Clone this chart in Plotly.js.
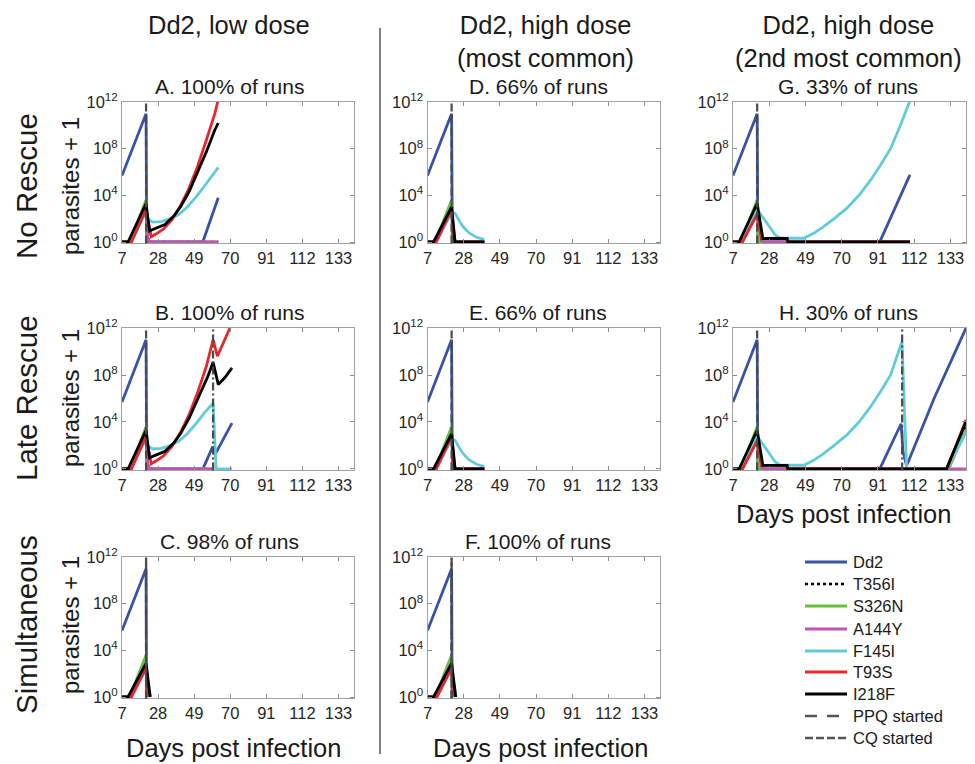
<!DOCTYPE html>
<html><head><meta charset="utf-8">
<script src="https://cdn.plot.ly/plotly-3.0.1.min.js"></script>
<style>html,body{margin:0;padding:0;background:#fff}#chart{width:975px;height:764px}</style>
</head><body><div id="chart"></div>
<script>
// ---- DATA: each point is [day post infection, log10(parasites + 1)] ----
const strains = ['Dd2','T356I','S326N','A144Y','F145I','T93S','I218F'];
const strainColors = ['#3953a4','#000000','#66c23a','#c052b8','#62cbdb','#e8262b','#000000'];
const strainDash = ['solid','dot','solid','solid','solid','solid','solid'];
const xTicks = [7,28,49,70,91,112,133];
const yTickExp = [0,4,8,12];
const panelIds = ['A','B','C','D','E','F','G','H'];
const panelTitles = ['A. 100% of runs','B. 100% of runs','C. 98% of runs','D. 66% of runs','E. 66% of runs','F. 100% of runs','G. 33% of runs','H. 30% of runs'];
const ppqDay = [21,21,21,21,21,21,21,21];
const cqDay = [null,60,21,null,null,21,null,105];
const columnTitles = ['Dd2, low dose','Dd2, high dose<br>(most common)','Dd2, high dose<br>(2nd most common)'];
const rowTitles = ['No Rescue','Late Rescue','Simultaneous'];
const legendLabels = ['Dd2','T356I','S326N','A144Y','F145I','T93S','I218F','PPQ started','CQ started'];

// Panel A: no rescue, low dose
const A_Dd2 = [[7,5.7],[21,11.0],[21.4,0],[54,0],[63,3.8]];
const A_T356I = [[7,0],[11,0],[21,2.5],[22.5,0],[63,0]];
const A_S326N = [[7,0],[11.5,0],[21,3.6],[22,0],[63,0]];
const A_A144Y = [[7,0],[12,0],[21,2.8],[22.3,0],[63,0]];
const A_F145I = [[7,0],[12,0],[21,2.6],[22,1.95],[25,1.7],[30,1.75],[35,2.0],[40,2.35],[45,3.0],[50,3.85],[55,4.8],[60,5.8],[63,6.4]];
const A_T93S = [[7,0],[12.5,0],[21,2.8],[24,0.45],[27,0.7],[31,1.1],[36,1.9],[41,3.1],[46,4.6],[51,6.5],[56,8.7],[61,11.0],[63,12.2]];
const A_I218F = [[7,0],[10.5,0],[21,3.3],[23,0.95],[27,1.2],[32,1.5],[37,2.2],[41,3.0],[46,4.3],[51,6.0],[56,7.7],[61,9.6],[63,10.2]];

// Panel B: late rescue, low dose
const B_Dd2 = [[7,5.7],[21,11.0],[21.4,0],[54,0],[59.8,1.9],[61,1.2],[71,3.9]];
const B_T356I = [[7,0],[11,0],[21,2.5],[22.5,0],[60,0]];
const B_S326N = [[7,0],[11.5,0],[21,3.6],[22,0],[60,0]];
const B_A144Y = [[7,0],[12,0],[21,2.8],[22.3,0],[60.5,0]];
const B_F145I = [[7,0],[12,0],[21,2.6],[22,1.95],[25,1.7],[30,1.75],[35,2.0],[40,2.35],[45,3.0],[50,3.85],[55,4.8],[60,5.6],[61.8,0],[71,0]];
const B_T93S = [[7,0],[12.5,0],[21,2.8],[24,0.45],[27,0.7],[31,1.1],[36,1.9],[41,3.1],[46,4.6],[51,6.5],[56,8.7],[60,11.0],[62.5,9.6],[70,12.1],[71,12.4]];
const B_I218F = [[7,0],[10.5,0],[21,3.3],[23,0.95],[27,1.2],[32,1.5],[37,2.2],[41,3.0],[46,4.3],[51,6.0],[57,7.9],[60,9.1],[63,7.2],[67,7.8],[71,8.6]];

// Panel C: simultaneous, low dose
const C_Dd2 = [[7,5.7],[21,11.0],[21.3,0]];
const C_T356I = [[7,0],[11,0],[21,2.4],[22.5,0]];
const C_S326N = [[7,0],[11.5,0],[21,3.6],[22,0]];
const C_A144Y = [[7,0],[12,0],[21,2.6],[22.5,0]];
const C_F145I = [[7,0],[12,0],[21,2.4],[23.6,0]];
const C_T93S = [[7,0],[12.5,0],[21,2.5],[22,0]];
const C_I218F = [[7,0],[10.5,0],[21,2.9],[23.4,0]];

// Panel D: no rescue, high dose (most common)
const D_Dd2 = [[7,5.7],[21,11.0],[21.4,0],[40,0]];
const D_T356I = [[7,0],[11,0],[21,2.5],[22.5,0],[40,0]];
const D_S326N = [[7,0],[11.5,0],[21,3.6],[22,0],[40,0]];
const D_A144Y = [[7,0],[12,0],[21,2.6],[23,0],[40,0]];
const D_F145I = [[7,0],[12,0],[21,2.6],[23,2.45],[25.5,1.8],[27.7,1.3],[31,0.8],[35.5,0.4],[40,0.2]];
const D_T93S = [[7,0],[12,0],[21,2.8],[22.5,0],[40,0]];
const D_I218F = [[7,0],[10.5,0],[21,3.0],[23,0],[40,0]];

// Panel E: late rescue, high dose (most common)
const E_Dd2 = [[7,5.7],[21,11.0],[21.4,0],[40,0]];
const E_T356I = [[7,0],[11,0],[21,2.5],[22.5,0],[40,0]];
const E_S326N = [[7,0],[11.5,0],[21,3.6],[22,0],[40,0]];
const E_A144Y = [[7,0],[12,0],[21,2.6],[23,0],[40,0]];
const E_F145I = [[7,0],[12,0],[21,2.6],[23,2.45],[25.5,1.8],[27.7,1.3],[31,0.8],[35.5,0.4],[40,0.2]];
const E_T93S = [[7,0],[12,0],[21,2.8],[22.5,0],[40,0]];
const E_I218F = [[7,0],[10.5,0],[21,3.0],[23,0],[40,0]];

// Panel F: simultaneous, high dose (most common)
const F_Dd2 = [[7,5.7],[21,11.0],[21.3,0]];
const F_T356I = [[7,0],[11,0],[21,2.4],[22.5,0]];
const F_S326N = [[7,0],[11.5,0],[21,3.6],[22,0]];
const F_A144Y = [[7,0],[12,0],[21,2.6],[22.5,0]];
const F_F145I = [[7,0],[12,0],[21,2.4],[23.6,0]];
const F_T93S = [[7,0],[12.5,0],[21,2.5],[22,0]];
const F_I218F = [[7,0],[10.5,0],[21,2.9],[23.4,0]];

// Panel G: no rescue, high dose (2nd most common)
const G_Dd2 = [[7,5.7],[21,11.0],[21.4,0],[92,0],[109.5,5.75]];
const G_T356I = [[7,0],[11,0],[21,2.5],[23,0],[109.5,0]];
const G_S326N = [[7,0],[11.5,0],[21,3.6],[22,0],[109.5,0]];
const G_A144Y = [[7,0],[12,0],[21,2.6],[24,0],[109.5,0]];
const G_F145I = [[7,0],[12,0],[21,2.8],[22.7,2.45],[25.5,1.8],[28.5,1.17],[31.5,0.6],[34.3,0.32],[48,0.32],[53.7,0.74],[59.5,1.31],[66,2.05],[73,2.9],[80,4.0],[86.7,5.3],[92.5,6.6],[98.3,8.0],[104,10.0],[109.5,12.1]];
const G_T93S = [[7,0],[12.5,0],[21,2.4],[23.5,0.3],[38,0.3],[38.5,0],[109.5,0]];
const G_I218F = [[7,0],[10.5,0],[21,3.3],[24.3,0.3],[38.4,0.3],[38.8,0],[109.5,0]];

// Panel H: late rescue, high dose (2nd most common)
const H_Dd2 = [[7,5.7],[21,11.0],[21.4,0],[92,0],[104.4,3.85],[105.5,1.5],[107.5,0.3],[108.5,0.6],[123.5,6.0],[142,12.0]];
const H_T356I = [[7,0],[11,0],[21,2.5],[23,0],[131.5,0],[142,3.7]];
const H_S326N = [[7,0],[11.5,0],[21,3.6],[22,0],[132,0],[142,3.4]];
const H_A144Y = [[7,0],[12,0],[21,2.6],[24,0],[142,0]];
const H_F145I = [[7,0],[12,0],[21,2.8],[22.7,2.45],[25.5,1.8],[28.5,1.17],[31.5,0.6],[34.3,0.32],[48,0.32],[53.7,0.74],[59.5,1.31],[66,2.05],[73,2.9],[80,4.0],[86.7,5.3],[92.5,6.6],[98.3,8.0],[104.9,10.83],[107.6,0],[131,0],[142,3.1]];
const H_T93S = [[7,0],[12.5,0],[21,2.4],[23.5,0.3],[38,0.3],[38.5,0],[131,0],[142,4.2]];
const H_I218F = [[7,0],[10.5,0],[21,3.3],[24.3,0.3],[38.4,0.3],[38.8,0],[130.6,0],[142,4.0]];

const panelSeries = {
  A:[A_Dd2,A_T356I,A_S326N,A_A144Y,A_F145I,A_T93S,A_I218F],
  B:[B_Dd2,B_T356I,B_S326N,B_A144Y,B_F145I,B_T93S,B_I218F],
  C:[C_Dd2,C_T356I,C_S326N,C_A144Y,C_F145I,C_T93S,C_I218F],
  D:[D_Dd2,D_T356I,D_S326N,D_A144Y,D_F145I,D_T93S,D_I218F],
  E:[E_Dd2,E_T356I,E_S326N,E_A144Y,E_F145I,E_T93S,E_I218F],
  F:[F_Dd2,F_T356I,F_S326N,F_A144Y,F_F145I,F_T93S,F_I218F],
  G:[G_Dd2,G_T356I,G_S326N,G_A144Y,G_F145I,G_T93S,G_I218F],
  H:[H_Dd2,H_T356I,H_S326N,H_A144Y,H_F145I,H_T93S,H_I218F]
};

// ---- LAYOUT (pixel geometry) ----
const W = 975, Hh = 764;
const colPx = [[122,354],[427.5,660],[733,966]];
const rowPx = [[102,243.4],[328,470.4],[557,698.4]];
const panelPos = [[0,0],[1,0],[2,0],[0,1],[1,1],[2,1],[0,2],[1,2]]; // [row,col]
const titleCx = [229,538,848];
const titleCy = [87,312,541];
const FONT = 'Liberation Sans, Arial, sans-serif';
const px = x => x / W;
const py = y => 1 - y / Hh;

const traces = [];
const shapes = [];
const annotations = [];
const layout = {
  width: W, height: Hh,
  margin: {l:0, r:0, t:0, b:0},
  paper_bgcolor: '#ffffff', plot_bgcolor: '#ffffff',
  showlegend: false,
  font: {family: FONT, color: '#1a1a1a'}
};

panelIds.forEach((pid, i) => {
  const suf = i === 0 ? '' : String(i + 1);
  const [r, c] = panelPos[i];
  const axCommon = {
    ticks: 'inside', ticklen: 4, tickwidth: 1, tickcolor: '#8c8c8c',
    showline: true, linecolor: '#a0a0a0', linewidth: 1, mirror: 'ticks',
    showgrid: false, zeroline: false, fixedrange: true,
    tickfont: {family: FONT, size: 16.5, color: '#262626'}
  };
  layout['xaxis' + suf] = Object.assign({}, axCommon, {
    domain: [px(colPx[c][0]), px(colPx[c][1])],
    anchor: 'y' + suf, range: [7, 142],
    tickmode: 'array', tickvals: xTicks, ticktext: xTicks.map(String)
  });
  layout['yaxis' + suf] = Object.assign({}, axCommon, {
    domain: [py(rowPx[r][1]), py(rowPx[r][0])],
    anchor: 'x' + suf, type: 'log', range: [-0.12, 12],
    tickmode: 'array', tickvals: yTickExp.map(e => Math.pow(10, e)),
    ticktext: yTickExp.map(e => '10<sup>' + e + '</sup>')
  });
  panelSeries[pid].forEach((ser, s) => {
    traces.push({
      type: 'scatter', mode: 'lines',
      x: ser.map(d => d[0]), y: ser.map(d => Math.pow(10, d[1])),
      xaxis: 'x' + suf, yaxis: 'y' + suf,
      line: {color: strainColors[s], width: strainDash[s] === 'dot' ? 2.3 : 2.8, dash: strainDash[s]},
      name: strains[s], hoverinfo: 'skip'
    });
  });
  // PPQ start
  shapes.push({type:'line', xref:'x' + suf, yref:'y' + suf + ' domain', x0: ppqDay[i], x1: ppqDay[i], y0: 0, y1: 1,
    line:{color:'#4a4a4a', width:2.2, dash:'8px,4px'}});
  if (cqDay[i] !== null) {
    shapes.push({type:'line', xref:'x' + suf, yref:'y' + suf + ' domain', x0: cqDay[i], x1: cqDay[i], y0: 0, y1: 1,
      line:{color:'#4a4a4a', width:2.2, dash:'8px,3px,2px,3px'}});
  }
  annotations.push({xref:'paper', yref:'paper', x: px(titleCx[c]), y: py(titleCy[r]), xanchor:'center', yanchor:'middle',
    text: panelTitles[i], showarrow:false, font:{family:FONT, size:21, color:'#1a1a1a'}});
});

// column headers
const headCx = [229, 545, 848];
columnTitles.forEach((t, c) => {
  annotations.push({xref:'paper', yref:'paper', x: px(headCx[c]), y: py(9), xanchor:'center', yanchor:'top',
    text: t, showarrow:false, align:'center', font:{family:FONT, size:25.5, color:'#1a1a1a'}});
});
// row titles + y axis labels
const rowCy = [186, 398, 625];
rowTitles.forEach((t, r) => {
  annotations.push({xref:'paper', yref:'paper', x: px(26), y: py(rowCy[r]), xanchor:'center', yanchor:'middle',
    text: t, textangle: -90, showarrow:false, font:{family:FONT, size:29.5, color:'#1a1a1a'}});
  annotations.push({xref:'paper', yref:'paper', x: px(70), y: py(rowCy[r]), xanchor:'center', yanchor:'middle',
    text: 'parasites + 1', textangle: -90, showarrow:false, font:{family:FONT, size:24, color:'#1a1a1a'}});
});
// x axis titles
[[233,748],[540,748],[843,514]].forEach(p => {
  annotations.push({xref:'paper', yref:'paper', x: px(p[0]), y: py(p[1]), xanchor:'center', yanchor:'middle',
    text: 'Days post infection', showarrow:false, font:{family:FONT, size:25.5, color:'#1a1a1a'}});
});
// separator
shapes.push({type:'line', xref:'paper', yref:'paper', x0: px(380), x1: px(380), y0: py(28), y1: py(754),
  line:{color:'#808080', width:2}});

// legend
const legY = [562,584,606,629,651,672,694,716,738];
legendLabels.forEach((lab, k) => {
  let color, dash, width;
  if (k < 7) { color = strainColors[k]; dash = strainDash[k]; width = strainDash[k] === 'dot' ? 2.3 : 2.8; }
  else if (k === 7) { color = '#555555'; dash = '12px,10px'; width = 2.6; }
  else { color = '#555555'; dash = '8px,3px'; width = 2.6; }
  shapes.push({type:'line', xref:'paper', yref:'paper', x0: px(805), x1: px(847), y0: py(legY[k]), y1: py(legY[k]),
    line:{color, width, dash}});
  annotations.push({xref:'paper', yref:'paper', x: px(851), y: py(legY[k]), xanchor:'left', yanchor:'middle',
    text: lab, showarrow:false, font:{family:FONT, size:16.5, color:'#1a1a1a'}});
});

layout.shapes = shapes;
layout.annotations = annotations;
Plotly.newPlot('chart', traces, layout, {staticPlot: true, displayModeBar: false});
</script></body></html>
